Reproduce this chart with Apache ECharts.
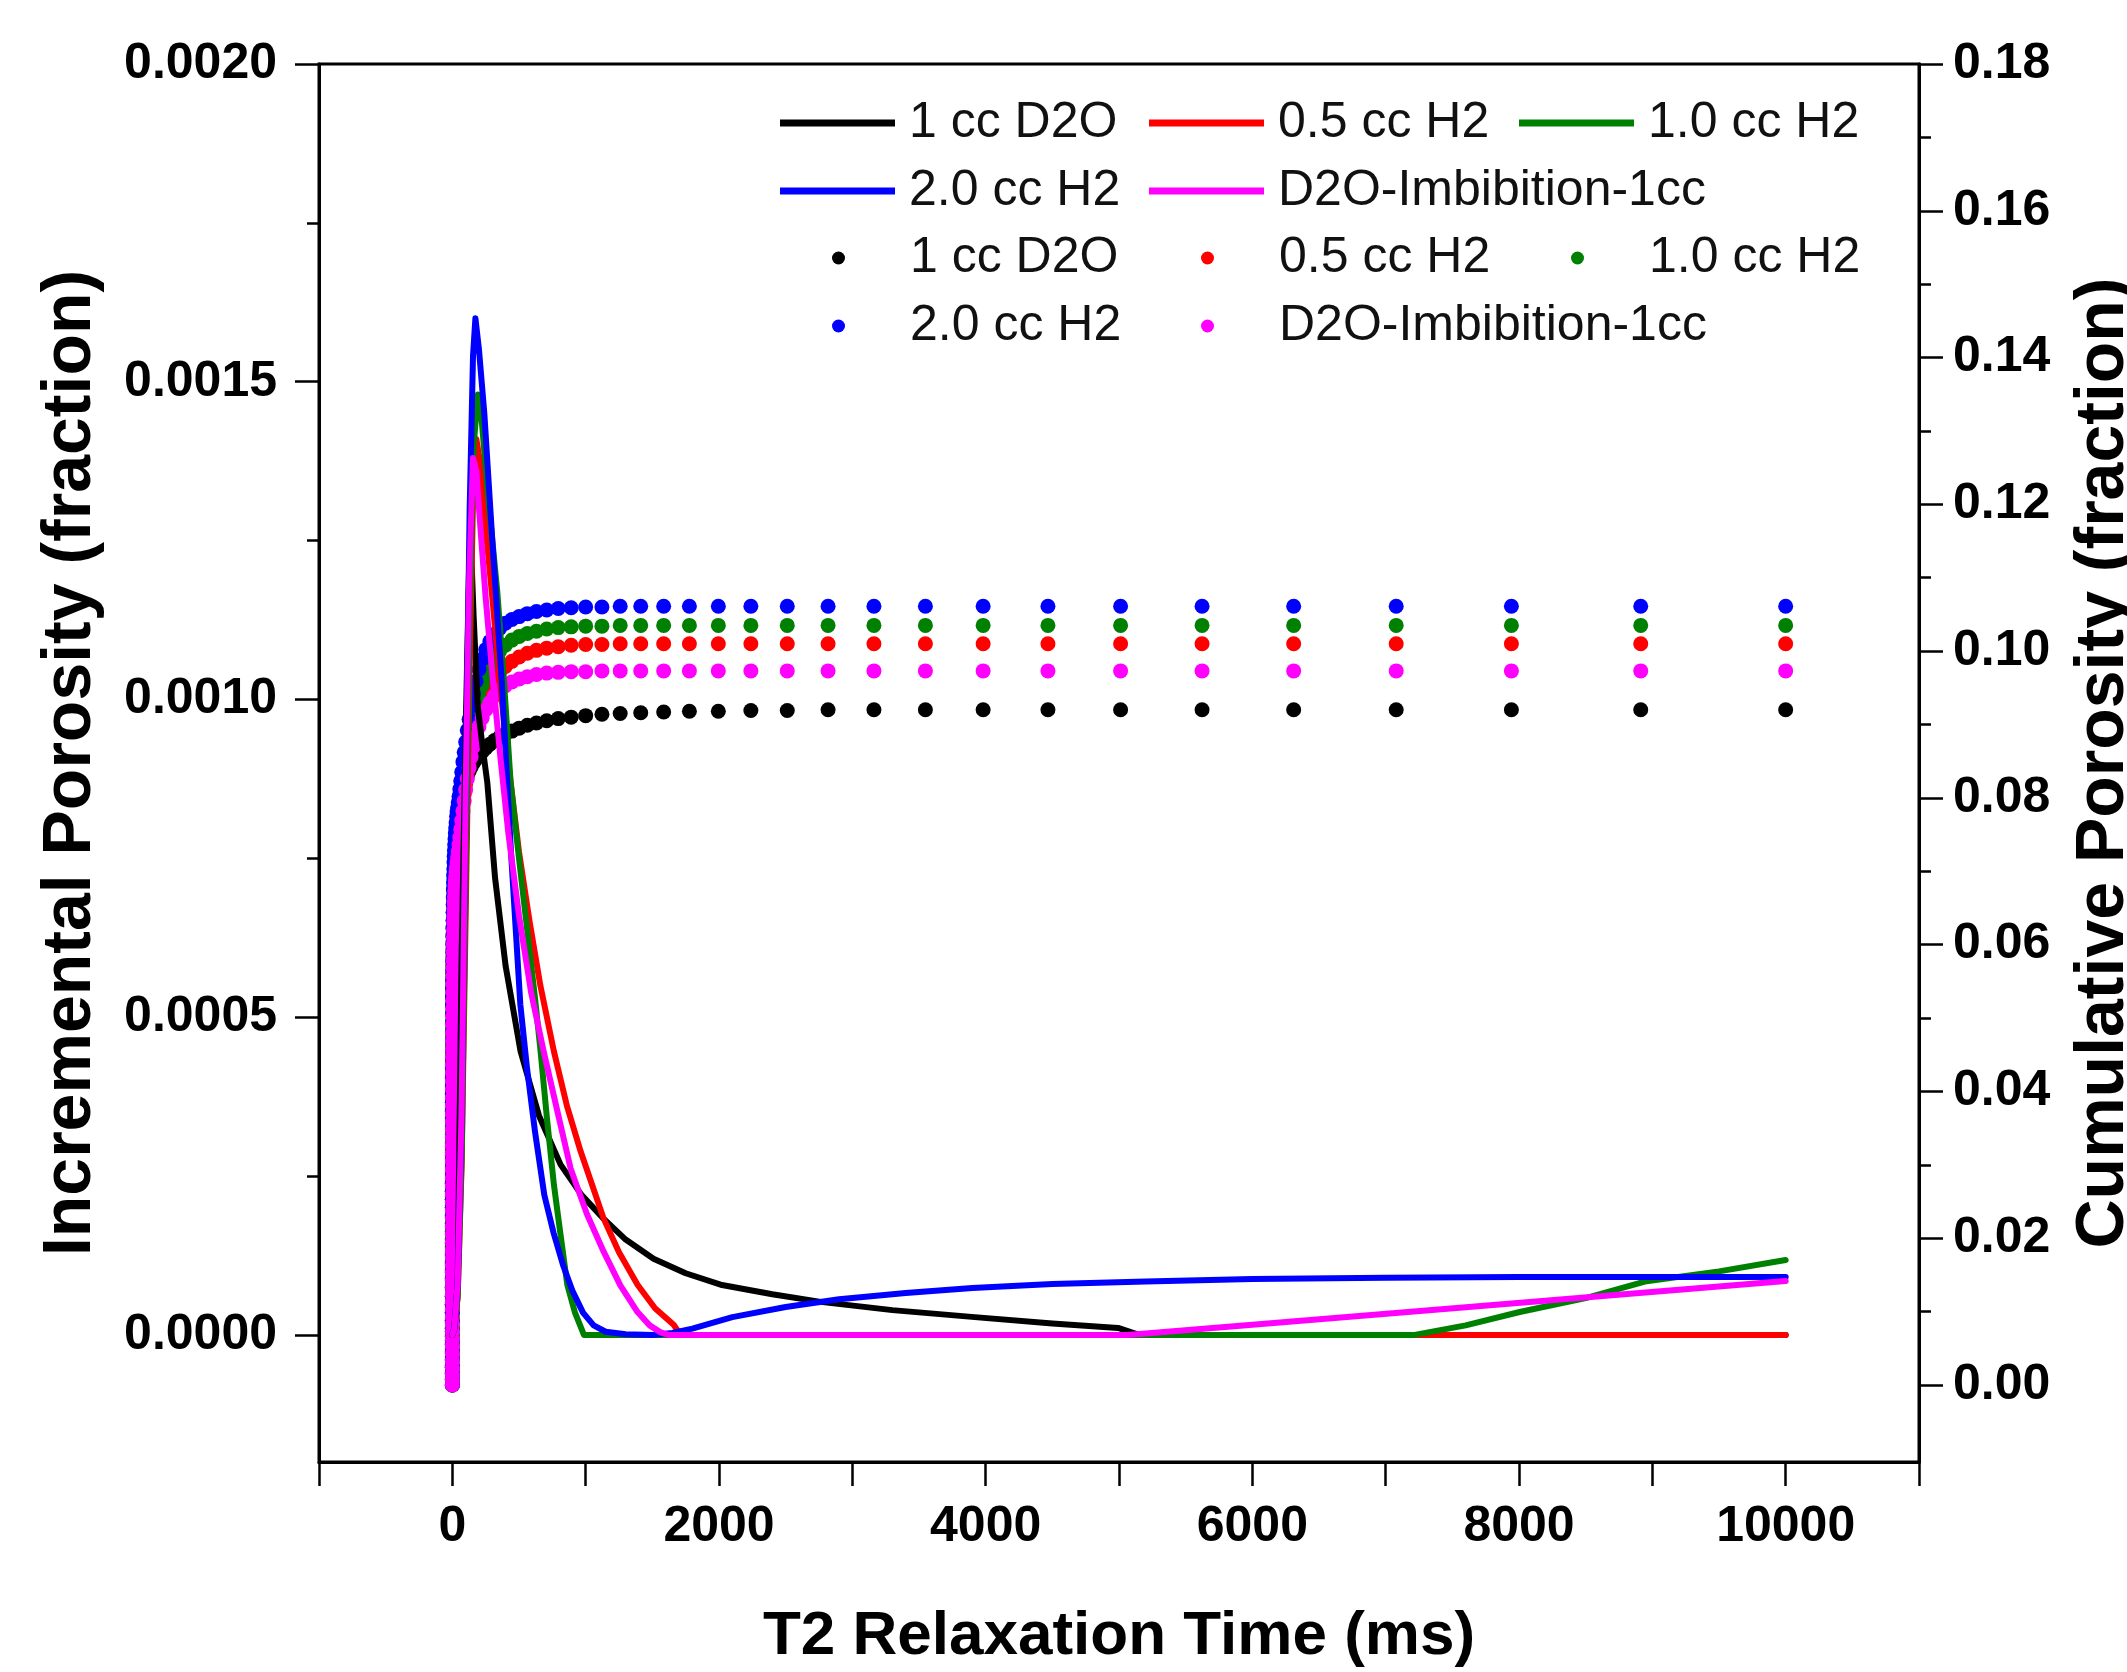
<!DOCTYPE html>
<html>
<head>
<meta charset="utf-8">
<script src="https://cdn.jsdelivr.net/npm/echarts@6/dist/echarts.min.js"></script>
<style>
html,body{margin:0;padding:0;background:#fff;}
#chart{width:2127px;height:1672px;}
</style>
</head>
<body>
<div id="chart"></div>
<script>
// ---------- DATA ----------
const seriesNames = ['1 cc D2O', '0.5 cc H2', '1.0 cc H2', '2.0 cc H2', 'D2O-Imbibition-1cc'];
const seriesColors = ['#000000', '#ff0000', '#008000', '#0000ff', '#ff00ff'];

const xTickLabels = [0, 2000, 4000, 6000, 8000, 10000];
const yLeftTicks = [0, 0.0005, 0.0010, 0.0015, 0.0020];
const yLeftMinor = [0.00025, 0.00075, 0.00125, 0.00175];
const yRightTicks = [0, 0.02, 0.04, 0.06, 0.08, 0.10, 0.12, 0.14, 0.16, 0.18];
const yRightMinor = [0.01, 0.03, 0.05, 0.07, 0.09, 0.11, 0.13, 0.15, 0.17];

// T2 bins (ms) of the cumulative points
const t2Bins = [
 0.01,0.01122,0.01259,0.01413,0.01585,0.01778,0.01995,0.02239,0.02512,0.02818,
 0.03162,0.03548,0.03981,0.04467,0.05012,0.05623,0.0631,0.07079,0.07943,0.08913,
 0.1,0.1122,0.1259,0.1413,0.1585,0.1778,0.1995,0.2239,0.2512,0.2818,
 0.3162,0.3548,0.3981,0.4467,0.5012,0.5623,0.631,0.7079,0.7943,0.8913,
 1,1.122,1.259,1.413,1.585,1.778,1.995,2.239,2.512,2.818,
 3.162,3.548,3.981,4.467,5.012,5.623,6.31,7.079,7.943,8.913,
 10,11.22,12.59,14.13,15.85,17.78,19.95,22.39,25.12,28.18,
 31.62,35.48,39.81,44.67,50.12,56.23,63.1,70.79,79.43,89.13,
 100,112.2,125.9,141.3,158.5,177.8,199.5,223.9,251.2,281.8,
 316.2,354.8,398.1,446.7,501.2,562.3,631,707.9,794.3,891.3,
 1000,1122,1259,1413,1585,1778,1995,2239,2512,2818,
 3162,3548,3981,4467,5012,5623,6310,7079,7943,8913,
 10000];

// Cumulative porosity (fraction) at each bin
const cumD2O = [
 0,0.0007,0.0015,0.0024,0.0034,0.0044,0.0055,0.0066,0.0077,0.0088,
 0.0099,0.0110,0.0121,0.0132,0.0143,0.0154,0.0165,0.0176,0.0187,0.0198,
 0.0209,0.0220,0.0231,0.0242,0.0253,0.0264,0.0275,0.0286,0.0297,0.0308,
 0.0319,0.0330,0.0341,0.0352,0.0363,0.0374,0.0385,0.0396,0.0407,0.0418,
 0.0429,0.0440,0.0451,0.0462,0.0473,0.0484,0.0495,0.0506,0.0517,0.0528,
 0.0539,0.0550,0.0561,0.0572,0.0583,0.0594,0.0605,0.0616,0.0626,0.0636,
 0.0646,0.0656,0.0665,0.0674,0.0682,0.0690,0.0697,0.0704,0.0710,0.0716,
 0.0725,0.0736,0.0747,0.0758,0.0769,0.0779,0.0788,0.0797,0.0806,0.0815,
 0.0823,0.0830,0.0836,0.0842,0.0848,0.0853,0.0858,0.0863,0.0868,0.0873,
 0.0878,0.0883,0.0887,0.0891,0.0895,0.0899,0.0902,0.0905,0.0908,0.0910,
 0.0912,0.0914,0.0915,0.0916,0.0917,0.0918,0.0918,0.0919,0.0919,0.0920,
 0.0920,0.0920,0.0920,0.0920,0.0920,0.0920,0.0920,0.0920,0.0920,0.0920,
 0.0920];
const cum05H2 = [
 0,0.0007,0.0015,0.0024,0.0034,0.0044,0.0055,0.0066,0.0077,0.0088,
 0.0099,0.0110,0.0121,0.0132,0.0143,0.0154,0.0165,0.0176,0.0187,0.0198,
 0.0209,0.0220,0.0231,0.0242,0.0253,0.0264,0.0275,0.0286,0.0297,0.0308,
 0.0319,0.0330,0.0341,0.0352,0.0363,0.0374,0.0385,0.0396,0.0407,0.0418,
 0.0429,0.0440,0.0451,0.0462,0.0473,0.0484,0.0495,0.0506,0.0517,0.0528,
 0.0539,0.0550,0.0561,0.0572,0.0583,0.0594,0.0605,0.0616,0.0626,0.0636,
 0.0646,0.0656,0.0665,0.0674,0.0682,0.0690,0.0697,0.0704,0.0710,0.0716,
 0.0722,0.0728,0.0735,0.0742,0.0750,0.0759,0.0769,0.0780,0.0792,0.0805,
 0.0819,0.0834,0.0850,0.0866,0.0882,0.0898,0.0913,0.0927,0.0940,0.0952,
 0.0962,0.0971,0.0979,0.0986,0.0992,0.0997,0.1001,0.1004,0.1006,0.1008,
 0.1009,0.1009,0.1010,0.1010,0.1010,0.1010,0.1010,0.1010,0.1010,0.1010,
 0.1010,0.1010,0.1010,0.1010,0.1010,0.1010,0.1010,0.1010,0.1010,0.1010,
 0.1010];
const cum10H2 = [
 0,0.0008,0.0016,0.0025,0.0035,0.0046,0.0057,0.0068,0.0079,0.0090,
 0.0101,0.0112,0.0123,0.0134,0.0145,0.0156,0.0167,0.0178,0.0189,0.0200,
 0.0211,0.0222,0.0233,0.0245,0.0257,0.0269,0.0281,0.0293,0.0305,0.0317,
 0.0329,0.0341,0.0353,0.0365,0.0377,0.0389,0.0401,0.0413,0.0425,0.0437,
 0.0449,0.0461,0.0473,0.0485,0.0497,0.0509,0.0521,0.0533,0.0545,0.0557,
 0.0568,0.0579,0.0590,0.0601,0.0612,0.0623,0.0633,0.0643,0.0653,0.0663,
 0.0672,0.0681,0.0689,0.0697,0.0705,0.0712,0.0719,0.0725,0.0731,0.0737,
 0.0743,0.0749,0.0756,0.0763,0.0771,0.0780,0.0790,0.0801,0.0813,0.0826,
 0.0840,0.0855,0.0871,0.0888,0.0905,0.0922,0.0938,0.0953,0.0967,0.0980,
 0.0991,0.1000,0.1008,0.1015,0.1020,0.1024,0.1027,0.1030,0.1032,0.1033,
 0.1034,0.1034,0.1035,0.1035,0.1035,0.1035,0.1035,0.1035,0.1035,0.1035,
 0.1035,0.1035,0.1035,0.1035,0.1035,0.1035,0.1035,0.1035,0.1035,0.1035,
 0.1035];
const cum20H2 = [
 0,0.0008,0.0017,0.0027,0.0038,0.0049,0.0061,0.0073,0.0085,0.0097,
 0.0109,0.0121,0.0133,0.0145,0.0157,0.0169,0.0181,0.0193,0.0205,0.0217,
 0.0229,0.0241,0.0253,0.0265,0.0277,0.0289,0.0301,0.0313,0.0325,0.0337,
 0.0349,0.0361,0.0373,0.0385,0.0397,0.0409,0.0421,0.0433,0.0445,0.0457,
 0.0469,0.0481,0.0493,0.0505,0.0517,0.0529,0.0541,0.0553,0.0565,0.0577,
 0.0589,0.0600,0.0611,0.0622,0.0633,0.0644,0.0655,0.0665,0.0675,0.0685,
 0.0694,0.0703,0.0712,0.0720,0.0728,0.0736,0.0744,0.0752,0.0759,0.0766,
 0.0775,0.0781,0.0787,0.0794,0.0802,0.0812,0.0823,0.0835,0.0849,0.0862,
 0.0876,0.0892,0.0907,0.0925,0.0942,0.0959,0.0975,0.0989,0.1002,0.1013,
 0.1023,0.1031,0.1038,0.1043,0.1047,0.1051,0.1054,0.1056,0.1058,0.1059,
 0.1060,0.1060,0.1061,0.1061,0.1061,0.1061,0.1061,0.1061,0.1061,0.1061,
 0.1061,0.1061,0.1061,0.1061,0.1061,0.1061,0.1061,0.1061,0.1061,0.1061,
 0.1061];
const cumImb = [
 0,0.0007,0.0015,0.0024,0.0033,0.0043,0.0053,0.0063,0.0073,0.0083,
 0.0093,0.0103,0.0113,0.0123,0.0133,0.0143,0.0153,0.0163,0.0173,0.0183,
 0.0194,0.0205,0.0216,0.0227,0.0238,0.0249,0.0260,0.0271,0.0282,0.0293,
 0.0304,0.0315,0.0326,0.0337,0.0348,0.0359,0.0370,0.0381,0.0392,0.0403,
 0.0414,0.0425,0.0436,0.0447,0.0458,0.0469,0.0480,0.0491,0.0502,0.0513,
 0.0524,0.0535,0.0546,0.0557,0.0568,0.0579,0.0590,0.0600,0.0610,0.0620,
 0.0630,0.0639,0.0648,0.0657,0.0665,0.0673,0.0680,0.0687,0.0693,0.0699,
 0.0705,0.0712,0.0719,0.0727,0.0736,0.0746,0.0757,0.0769,0.0782,0.0796,
 0.0811,0.0826,0.0841,0.0856,0.0870,0.0884,0.0897,0.0909,0.0920,0.0930,
 0.0939,0.0947,0.0953,0.0958,0.0962,0.0965,0.0968,0.0970,0.0971,0.0972,
 0.0972,0.0973,0.0973,0.0973,0.0973,0.0973,0.0973,0.0973,0.0973,0.0973,
 0.0973,0.0973,0.0973,0.0973,0.0973,0.0973,0.0973,0.0973,0.0973,0.0973,
 0.0973];

// Incremental porosity curves (T2 in ms, value in fraction)
const incD2O_T = [0,15,40,70,100,125,140,160,190,230,262,320,400,512,650,812,970,1134,1300,1509,1750,2012,2400,2762,3300,3918,4500,4993,5150,10000];
const incD2O_V = [0,0.00001,0.00008,0.00060,0.00095,0.00120,0.00124,0.00113,0.00099,0.00092,0.00087,0.00072,0.00058,0.000446,0.000345,0.000268,0.00022,0.000183,0.00015,0.00012,0.000097,0.000079,0.000064,0.000052,0.000039,0.000028,0.000018,0.000011,0,0];

const inc05H2_T = [0,15,40,70,100,130,155,180,210,250,300,360,420,500,580,660,762,860,962,1050,1135,1250,1389,1520,1660,1712,10000];
const inc05H2_V = [0,0.00001,0.00006,0.00027,0.00066,0.00105,0.00131,0.00141,0.00137,0.00127,0.00116,0.00102,0.00090,0.00076,0.00065,0.00055,0.000446,0.00036,0.000289,0.000235,0.000183,0.00013,0.000079,0.000042,0.000016,0,0];

const inc10H2_T = [0,15,40,70,100,130,160,192,220,260,300,337,390,437,500,560,620,662,710,762,810,862,920,987,7218,7600,8005,8500,8943,9500,10000];
const inc10H2_V = [0,0.00001,0.00006,0.00028,0.00072,0.00114,0.00140,0.00148,0.00144,0.00134,0.00125,0.00117,0.00102,0.00087,0.00075,0.00064,0.00053,0.000446,0.00034,0.000236,0.00016,0.000079,0.000035,0,0,0.000015,0.000036,0.000058,0.000084,0.00010,0.000118];

const inc20H2_T = [0,15,40,70,100,130,155,173,200,240,300,370,440,510,560,620,690,760,830,900,980,1060,1150,1300,1500,1650,1800,2100,2500,2900,3400,3900,4500,5200,6000,7000,8000,9000,10000];
const inc20H2_V = [0,0.00001,0.00008,0.00035,0.00085,0.00130,0.00154,0.00160,0.00155,0.00145,0.00125,0.00103,0.00076,0.00052,0.00042,0.00032,0.00022,0.00016,0.00011,0.00007,0.000035,0.000015,0.000005,0.000001,0,0.000003,0.00001,0.000028,0.000044,0.000056,0.000066,0.000074,0.00008,0.000084,0.000088,0.00009,0.000091,0.000091,0.000091];

const incImb_T = [0,15,40,70,100,125,155,180,200,250,300,360,420,500,590,685,790,887,1010,1135,1260,1389,1480,1562,1620,5063,10000];
const incImb_V = [0,0.00001,0.00008,0.00036,0.00085,0.00118,0.00138,0.00136,0.00130,0.00116,0.00104,0.00091,0.00079,0.00066,0.00054,0.000446,0.00035,0.000262,0.00019,0.000131,0.000078,0.000036,0.000015,0.000004,0,0,0.000085];

// ---------- BUILD ----------
function zip(a, b) { return a.map((v, i) => [v, b[i]]); }
const incT = [incD2O_T, inc05H2_T, inc10H2_T, inc20H2_T, incImb_T];
const incV = [incD2O_V, inc05H2_V, inc10H2_V, inc20H2_V, incImb_V];
const cumV = [cumD2O, cum05H2, cum10H2, cum20H2, cumImb];
const CUM = ' (cum)';

const series = [];
seriesNames.forEach((n, i) => {
  series.push({
    name: n + CUM, type: 'scatter', xAxisIndex: 0, yAxisIndex: 2,
    data: zip(t2Bins, cumV[i]), symbol: 'circle', symbolSize: 15,
    itemStyle: { color: seriesColors[i], opacity: 1 }, z: 2, silent: true
  });
});
seriesNames.forEach((n, i) => {
  series.push({
    name: n, type: 'line', xAxisIndex: 0, yAxisIndex: 0,
    data: zip(incT[i], incV[i]), showSymbol: false, symbol: 'none', smooth: false,
    lineStyle: { color: seriesColors[i], width: 6, cap: 'round', join: 'round' },
    itemStyle: { color: seriesColors[i] }, z: 3, silent: true
  });
});

const FONT = '"Liberation Sans", Arial, Helvetica, sans-serif';
const tickLabel = { fontFamily: FONT, fontWeight: 'bold', fontSize: 50, color: '#000' };
const axisLineStyle = { color: '#000', width: 3 };
const tickStyle = { color: '#000', width: 2.5 };

// legends: [name, isScatter, column, row]
const legendCols = [780, 1149, 1519];
const legendRows = [121, 189, 256, 324];
const legendLayout = [
  [seriesNames[0], false, 0, 0], [seriesNames[1], false, 1, 0], [seriesNames[2], false, 2, 0],
  [seriesNames[3], false, 0, 1], [seriesNames[4], false, 1, 1],
  [seriesNames[0] + CUM, true, 0, 2], [seriesNames[1] + CUM, true, 1, 2], [seriesNames[2] + CUM, true, 2, 2],
  [seriesNames[3] + CUM, true, 0, 3], [seriesNames[4] + CUM, true, 1, 3]
];
const legends = legendLayout.map(([name, isSc, c, r]) => ({
  data: [name],
  left: legendCols[c] + (isSc ? 52 : 0), top: legendRows[r] - 23,
  orient: 'horizontal', padding: 0, selectedMode: false,
  itemWidth: 115, itemHeight: isSc ? 13 : 7,
  icon: isSc ? 'circle' : 'rect',
  formatter: (nm) => nm.replace(CUM, ''),
  textStyle: { fontFamily: FONT, fontSize: 50, color: '#111', padding: [0, 0, 0, 9] }
}));

const option = {
  animation: false,
  backgroundColor: '#ffffff',
  legend: legends,
  grid: { left: 319, right: 208, top: 64, bottom: 210, containLabel: false, outerBoundsMode: 'none',
          show: true, borderColor: '#000', borderWidth: 3, backgroundColor: 'transparent' },
  xAxis: [{
    type: 'value', min: -1000, max: 11000, interval: 1000,
    name: 'T2 Relaxation Time (ms)', nameLocation: 'middle', nameGap: 144,
    nameTextStyle: { fontFamily: FONT, fontWeight: 'bold', fontSize: 62, color: '#000' },
    axisLine: { show: true, onZero: false, lineStyle: axisLineStyle },
    axisTick: { show: true, length: 24, lineStyle: tickStyle },
    axisLabel: Object.assign({ margin: 40, formatter: v => (xTickLabels.indexOf(v) >= 0) ? String(v) : '' }, tickLabel),
    splitLine: { show: false }
  }],
  yAxis: [{
    type: 'value', position: 'left', min: -0.0002, max: 0.0020,
    name: 'Incremental Porosity (fraction)', nameLocation: 'middle', nameGap: 214,
    nameTextStyle: { fontFamily: FONT, fontWeight: 'bold', fontSize: 68, color: '#000' },
    axisLine: { show: true, onZero: false, lineStyle: axisLineStyle },
    axisTick: { show: true, length: 24, lineStyle: tickStyle, customValues: yLeftTicks },
    axisLabel: Object.assign({ margin: 42, customValues: yLeftTicks, formatter: v => v.toFixed(4) }, tickLabel),
    splitLine: { show: false }
  }, {
    type: 'value', position: 'left', min: -0.0002, max: 0.0020,
    axisLine: { show: false, onZero: false },
    axisTick: { show: true, length: 12, lineStyle: tickStyle, customValues: yLeftMinor },
    axisLabel: { show: false },
    splitLine: { show: false }
  }, {
    type: 'value', position: 'right', min: -0.0105, max: 0.18,
    name: 'Cumulative Porosity (fraction)', nameLocation: 'middle', nameGap: 151,
    nameTextStyle: { fontFamily: FONT, fontWeight: 'bold', fontSize: 68, color: '#000' },
    axisLine: { show: true, onZero: false, lineStyle: axisLineStyle },
    axisTick: { show: true, length: 24, lineStyle: tickStyle, customValues: yRightTicks },
    axisLabel: Object.assign({ margin: 34, customValues: yRightTicks, formatter: v => v.toFixed(2) }, tickLabel),
    splitLine: { show: false }
  }, {
    type: 'value', position: 'right', min: -0.0105, max: 0.18,
    axisLine: { show: false, onZero: false },
    axisTick: { show: true, length: 12, lineStyle: tickStyle, customValues: yRightMinor },
    axisLabel: { show: false },
    splitLine: { show: false }
  }],
  series: series
};

const chart = echarts.init(document.getElementById('chart'), null, { renderer: 'canvas', width: 2127, height: 1672 });
chart.setOption(option);
</script>
</body>
</html>
